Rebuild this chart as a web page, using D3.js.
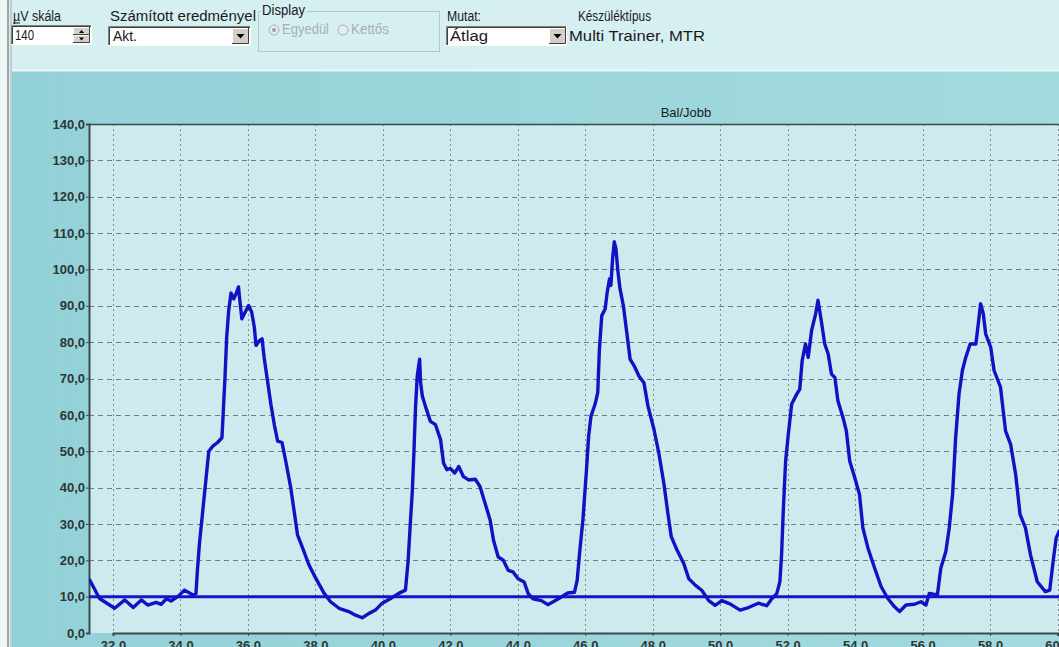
<!DOCTYPE html>
<html>
<head>
<meta charset="utf-8">
<script src="https://cdn.jsdelivr.net/npm/d3@7"></script>
<style>
  html, body { margin: 0; padding: 0; background: #d6eff1; overflow: hidden; }
  svg { display: block; }
  text { font-family: "Liberation Sans Narrow", "Arial Narrow", "Liberation Sans", Arial, sans-serif; }
</style>
</head>
<body>
<svg id="chart" width="1059" height="647"></svg>
<script>
// ---- data ----
const chartTitle = "Bal/Jobb";
const yTicks = [0, 10, 20, 30, 40, 50, 60, 70, 80, 90, 100, 110, 120, 130, 140];
const xTicks = [32, 34, 36, 38, 40, 42, 44, 46, 48, 50, 52, 54, 56, 58, 60];
const thresholdValue = 10;
const timeSec = [
  31.31, 31.6, 32.05, 32.35, 32.6, 32.84, 33.03, 33.28, 33.43, 33.58, 33.72, 33.92, 34.12, 34.36, 34.46,
  34.5, 34.56, 34.66, 34.76, 34.84, 34.96, 35.1, 35.23, 35.27, 35.32, 35.37, 35.43, 35.5, 35.58, 35.65,
  35.72, 35.76, 35.82, 35.92, 36.02, 36.11, 36.19, 36.24, 36.34, 36.42, 36.48, 36.58, 36.68, 36.78, 36.88,
  37.01, 37.12, 37.27, 37.37, 37.47, 37.62, 37.81, 38.01, 38.26, 38.45, 38.7, 38.99, 39.19, 39.39, 39.59,
  39.78, 39.98, 40.23, 40.47, 40.67,
  40.75, 40.82, 40.87, 40.92, 40.97, 41.02, 41.09, 41.12, 41.17, 41.26, 41.41, 41.56, 41.71, 41.8, 41.9,
  42.0, 42.13, 42.25, 42.39, 42.54, 42.74, 42.88, 43.03, 43.18, 43.28, 43.42, 43.57, 43.72, 43.86, 44.01,
  44.19, 44.31, 44.45, 44.7, 44.89, 45.09, 45.29, 45.48, 45.68, 45.76, 45.83, 45.93, 46.03, 46.1, 46.17,
  46.29, 46.37, 46.42, 46.49, 46.59, 46.65, 46.72, 46.76, 46.81, 46.86, 46.91, 46.96, 47.03, 47.13, 47.23,
  47.33, 47.45, 47.59, 47.74, 47.86, 48.04, 48.18, 48.33, 48.45, 48.55, 48.72, 48.92, 49.07, 49.27, 49.46,
  49.66, 49.85, 50.05,
  50.29, 50.59, 50.84, 51.13, 51.38, 51.53, 51.68, 51.77, 51.82, 51.87, 51.94, 52.02, 52.12, 52.27, 52.36,
  52.43, 52.53, 52.61, 52.71, 52.83, 52.9, 52.98, 53.1, 53.2, 53.3, 53.4, 53.49, 53.64, 53.74, 53.84,
  53.99, 54.13, 54.23, 54.38, 54.58, 54.77, 54.97, 55.17, 55.32, 55.51, 55.76, 55.95, 56.1, 56.2, 56.44,
  56.54, 56.69, 56.79, 56.89, 56.98, 57.08, 57.18, 57.28, 57.41, 57.58, 57.64, 57.72, 57.8, 57.87, 58.02,
  58.12, 58.31, 58.46, 58.61, 58.76, 58.89, 59.05, 59.2, 59.4, 59.64, 59.77, 59.87, 59.96, 60.05
];
const microVolt = [
  14.6, 9.5, 6.8, 9.1, 7.0, 9.1, 7.7, 8.4, 7.9, 9.4, 8.8, 10.0, 11.8, 10.5, 10.9,
  16.9, 24.3, 33.5, 42.7, 50.0, 51.4, 52.4, 53.7, 61.1, 70.3, 81.4, 88.7, 93.5, 91.9, 93.3,
  95.2, 91.5, 86.4, 88.3, 90.1, 88.3, 84.1, 79.1, 80.4, 80.9, 75.8, 69.4, 62.9, 57.4, 52.8,
  52.4, 47.3, 39.9, 33.5, 27.0, 23.4, 18.7, 15.1, 10.9, 8.6, 6.8, 5.9, 4.9, 4.2, 5.4,
  6.3, 8.2, 9.5, 10.9, 11.8,
  20.0, 31.1, 38.4, 49.5, 62.4, 70.7, 75.3, 68.8, 65.2, 62.4, 58.2, 57.3, 53.2, 46.7, 44.9,
  45.3, 44.0, 45.8, 43.0, 42.1, 42.3, 40.3, 35.7, 31.1, 25.5, 20.9, 20.0, 17.2, 16.8, 14.9,
  14.0, 10.8, 9.4, 8.9, 7.8, 8.8, 9.9, 11.0, 11.2, 14.5, 21.8, 31.1, 44.0, 54.1, 59.6,
  62.9, 66.1, 78.1, 87.3, 89.1, 93.7, 97.4, 95.6, 102.9, 107.6, 105.7, 100.2, 94.7, 90.0, 82.7,
  75.3, 73.5, 70.7, 68.8, 62.4, 55.9, 49.5, 41.2, 32.9, 26.5, 22.8, 19.1, 14.9, 13.1, 11.7,
  8.9, 7.6, 8.9,
  8.0, 6.3, 7.0, 8.2, 7.5, 9.4, 10.9, 14.1, 21.5, 33.5, 47.3, 54.7, 63.0, 65.7, 67.1,
  74.9, 79.5, 75.8, 83.2, 87.8, 91.5, 86.9, 79.5, 76.8, 71.2, 70.3, 63.9, 59.3, 55.6, 47.3,
  42.7, 38.1, 28.9, 23.4, 17.8, 12.8, 9.5, 7.2, 5.9, 7.7, 7.9, 8.6, 7.7, 10.9, 10.5,
  17.8, 22.4, 28.9, 38.1, 53.7, 65.7, 72.2, 75.8, 79.5, 79.5, 84.1, 90.6, 87.8, 82.3, 78.6,
  72.2, 67.6, 55.6, 51.9, 43.6, 32.6, 28.9, 21.5, 14.1, 11.4, 11.8, 19.7, 26.1, 28.0
];

// ---- layout ----
const W = 1059, H = 647;
const svg = d3.select("#chart");
const plot = { left: 89, top: 124, right: 1062, bottom: 633 };

const x = d3.scaleLinear().domain([32, 60]).range([113, 1057.5]);
const y = d3.scaleLinear().domain([0, 140]).range([plot.bottom, plot.top]);

const fmt = v => d3.format(".1f")(v).replace(".", ",");

// ---- window background / toolbar ----
svg.append("rect").attr("x", 0).attr("y", 0).attr("width", W).attr("height", H).attr("fill", "#d6eff1");

const defs = svg.append("defs");
const panelGrad = defs.append("linearGradient").attr("id", "panelGrad")
  .attr("x1", 0).attr("x2", 1).attr("y1", 0).attr("y2", 0);
panelGrad.append("stop").attr("offset", "0%").attr("stop-color", "#93d1d8");
panelGrad.append("stop").attr("offset", "100%").attr("stop-color", "#a2dade");
svg.append("rect").attr("x", 12).attr("y", 71).attr("width", W - 12).attr("height", H - 71).attr("fill", "url(#panelGrad)");
svg.append("line").attr("x1", 12).attr("x2", W).attr("y1", 70.5).attr("y2", 70.5).attr("stroke", "#eaf7f8").attr("stroke-width", 2);

// left window border
svg.append("rect").attr("x", 0).attr("y", 0).attr("width", 7).attr("height", H).attr("fill", "#eef6f6");
svg.append("line").attr("x1", 8).attr("x2", 8).attr("y1", 0).attr("y2", H).attr("stroke", "#9aa6a6").attr("stroke-width", 2);
svg.append("line").attr("x1", 11).attr("x2", 11).attr("y1", 0).attr("y2", H).attr("stroke", "#c4cccc").attr("stroke-width", 2);

// toolbar controls
const tb = svg.append("g").attr("font-size", 14).attr("fill", "#1a1a1a");
function sunken(g, x0, y0, w, h) {
  g.append("rect").attr("x", x0).attr("y", y0).attr("width", w).attr("height", h).attr("fill", "#ffffff");
  g.append("path").attr("d", `M${x0 + 0.5},${y0 + h} V${y0 + 0.5} H${x0 + w}`).attr("stroke", "#808080").attr("fill", "none");
  g.append("path").attr("d", `M${x0 + 1.5},${y0 + h - 1} V${y0 + 1.5} H${x0 + w - 1}`).attr("stroke", "#404040").attr("fill", "none");
  g.append("path").attr("d", `M${x0},${y0 + h - 0.5} H${x0 + w - 0.5} V${y0}`).attr("stroke", "#ffffff").attr("fill", "none");
}
function button(g, x0, y0, w, h) {
  g.append("rect").attr("x", x0).attr("y", y0).attr("width", w).attr("height", h).attr("fill", "#d4d0c8");
  g.append("path").attr("d", `M${x0 + 0.5},${y0 + h} V${y0 + 0.5} H${x0 + w}`).attr("stroke", "#ffffff").attr("fill", "none");
  g.append("path").attr("d", `M${x0},${y0 + h - 0.5} H${x0 + w - 0.5} V${y0}`).attr("stroke", "#404040").attr("fill", "none");
}
function label(g, x0, y0, str, len, fill) {
  const t = g.append("text").attr("x", x0).attr("y", y0).text(str);
  if (len) t.attr("textLength", len).attr("lengthAdjust", "spacingAndGlyphs");
  if (fill) t.attr("fill", fill);
  return t;
}

// µV skála
label(tb, 13, 21, "µV skála", 48);
tb.append("line").attr("x1", 13).attr("x2", 20).attr("y1", 23).attr("y2", 23).attr("stroke", "#1a1a1a");
sunken(tb, 11, 25, 81, 20);
label(tb, 15, 40, "140", 19);
button(tb, 73, 27, 17, 8);
button(tb, 73, 35, 17, 8);
tb.append("path").attr("d", "M79,33 L81.5,30 L84,33 Z").attr("fill", "#000");
tb.append("path").attr("d", "M79,37.5 L81.5,40.5 L84,37.5 Z").attr("fill", "#000");

// Számított eredményel
label(tb, 110, 21, "Számított eredményel", 146);
sunken(tb, 108, 26, 143, 20);
label(tb, 113, 41, "Akt.", 24);
button(tb, 232, 28, 17, 16);
tb.append("path").attr("d", "M236.5,34 L244.5,34 L240.5,38.5 Z").attr("fill", "#000");

// Display group
tb.append("rect").attr("x", 258.5).attr("y", 11.5).attr("width", 181).attr("height", 40)
  .attr("fill", "none").attr("stroke", "#b9c6c7");
tb.append("rect").attr("x", 261).attr("y", 3).attr("width", 46).attr("height", 13).attr("fill", "#d6eff1");
label(tb, 262, 15, "Display", 43);
[[274, "Egyedül", 47], [343, "Kettős", 38]].forEach(([cx, lbl, len], i) => {
  tb.append("circle").attr("cx", cx).attr("cy", 30).attr("r", 5).attr("fill", "#e4ecec").attr("stroke", "#a8b0b0");
  if (i === 0) tb.append("circle").attr("cx", cx).attr("cy", 30).attr("r", 2).attr("fill", "#a0a0a0");
  label(tb, cx + 8, 34, lbl, len, "#a6b0b0");
});

// Mutat
label(tb, 447, 21, "Mutat:", 34);
sunken(tb, 446, 26, 121, 20);
label(tb, 450, 41, "Átlag", 38);
button(tb, 549, 28, 17, 16);
tb.append("path").attr("d", "M553.5,34 L561.5,34 L557.5,38.5 Z").attr("fill", "#000");

// Készüléktípus
label(tb, 578, 21, "Készüléktípus", 73);
label(tb, 569, 41, "Multi Trainer, MTR", 136);

// ---- plot area ----
svg.append("rect").attr("x", plot.left).attr("y", plot.top)
  .attr("width", plot.right - plot.left).attr("height", plot.bottom - plot.top)
  .attr("fill", "#cdebee");

const grid = svg.append("g");
grid.selectAll("line.h").data(yTicks.filter(v => v > 0 && v < 140)).join("line")
  .attr("x1", plot.left).attr("x2", plot.right)
  .attr("y1", d => Math.round(y(d)) + 0.5).attr("y2", d => Math.round(y(d)) + 0.5)
  .attr("stroke", "#6f7e80").attr("stroke-dasharray", "5,4").attr("stroke-width", 1);
grid.selectAll("line.v").data(xTicks).join("line")
  .attr("x1", d => Math.round(x(d)) + 0.5).attr("x2", d => Math.round(x(d)) + 0.5)
  .attr("y1", plot.top).attr("y2", plot.bottom)
  .attr("stroke", "#7f8d8f").attr("stroke-dasharray", "2,3").attr("stroke-width", 1);
// top frame
svg.append("line").attr("x1", plot.left).attr("x2", plot.right)
  .attr("y1", plot.top + 0.5).attr("y2", plot.top + 0.5).attr("stroke", "#3c4a4c").attr("stroke-width", 1.5);

// axes
const yAxis = d3.axisLeft(y).tickValues(yTicks).tickFormat(fmt).tickSize(3).tickPadding(1);
const gy = svg.append("g").attr("transform", `translate(${plot.left},0)`).call(yAxis);
gy.select(".domain").attr("stroke", "#3c4a4c").attr("stroke-width", 2);
gy.selectAll(".tick line").attr("stroke", "#3c4a4c");
gy.selectAll(".tick text").attr("fill", "#2e3636").attr("font-size", 13).attr("font-weight", "bold")
  .attr("font-family", "'Liberation Sans', Arial, sans-serif");

const xAxis = d3.axisBottom(x).tickValues(xTicks).tickFormat(fmt).tickSize(3).tickPadding(5);
const gx = svg.append("g").attr("transform", `translate(0,${plot.bottom})`).call(xAxis);
gx.select(".domain").attr("stroke", "#3c4a4c").attr("stroke-width", 2);
gx.selectAll(".tick line").attr("stroke", "#3c4a4c");
gx.selectAll(".tick text").attr("fill", "#2e3636").attr("font-size", 13).attr("font-weight", "bold")
  .attr("font-family", "'Liberation Sans', Arial, sans-serif");

// title
svg.append("text").attr("x", 686).attr("y", 117).attr("text-anchor", "middle")
  .attr("font-size", 13).attr("fill", "#1a1a1a").text(chartTitle);

// ---- data line ----
defs.append("clipPath").attr("id", "plotClip").append("rect")
  .attr("x", plot.left).attr("y", plot.top - 5).attr("width", plot.right - plot.left).attr("height", plot.bottom - plot.top + 5);

svg.append("line")
  .attr("x1", plot.left).attr("x2", plot.right)
  .attr("y1", y(thresholdValue)).attr("y2", y(thresholdValue))
  .attr("stroke", "#1414c8").attr("stroke-width", 3);

const pts = timeSec.map((t, i) => [t, microVolt[i]]);
svg.append("path").datum(pts)
  .attr("clip-path", "url(#plotClip)")
  .attr("fill", "none").attr("stroke", "#1212c4").attr("stroke-width", 3.4)
  .attr("stroke-linejoin", "round").attr("stroke-linecap", "round")
  .attr("d", d3.line().x(d => x(d[0])).y(d => y(d[1])));
</script>
</body>
</html>
